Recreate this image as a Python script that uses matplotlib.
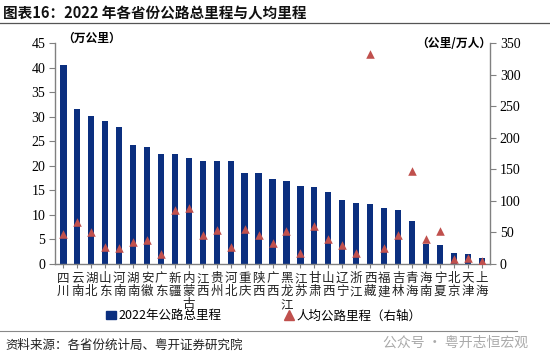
import matplotlib
matplotlib.use("Agg")
import matplotlib.pyplot as plt
from matplotlib.lines import Line2D
from matplotlib.patches import Patch

plt.rcParams['font.family'] = ['Noto Sans CJK SC', 'DejaVu Sans']

provinces = ["四川", "云南", "湖北", "山东", "河南", "湖南", "安徽", "广东", "新疆", "内蒙古",
             "江西", "贵州", "河北", "重庆", "陕西", "广西", "黑龙江", "江苏", "甘肃", "山西",
             "辽宁", "浙江", "西藏", "福建", "吉林", "青海", "海南", "宁夏", "北京", "天津", "上海"]
total_km = [40.6, 31.6, 30.2, 29.2, 27.8, 24.2, 23.8, 22.3, 22.3, 21.6,
            21.0, 20.9, 20.9, 18.6, 18.6, 17.2, 16.9, 15.8, 15.7, 14.6,
            13.1, 12.4, 12.2, 11.3, 10.9, 8.8, 4.1, 3.8, 2.2, 2.0, 1.3]
per_capita = [47.5, 66, 50.7, 26.4, 25.9, 35.4, 38, 16.4, 85, 88.7,
              45.4, 53.3, 26.4, 56, 45.4, 32.7, 52.5, 18, 60.7, 40,
              29.6, 18, 332, 25.4, 45, 147, 39.6, 51.8, 8.4, 10, 4.3]
left_ticks = list(range(0, 50, 5))
right_ticks = list(range(0, 400, 50))

bar_color = '#0B2F7F'
tri_color = '#C0504D'
serif = 'Liberation Serif'

fig = plt.figure(figsize=(5.5, 3.61), dpi=100)
ax = fig.add_axes([0.1, 0.269, 0.791, 0.612])
ax2 = ax.twinx()

x = list(range(len(provinces)))
ax.bar(x, total_km, width=0.45, color=bar_color, zorder=2)
ax2.scatter(x, per_capita, marker='^', s=38, color=tri_color, zorder=3, linewidths=0)

ax.set_xlim(-0.6, len(provinces) - 0.4)
ax.set_ylim(0, 45)
ax2.set_ylim(0, 350)
ax.set_yticks(left_ticks)
ax2.set_yticks(right_ticks)
ax.set_yticklabels([str(t) for t in left_ticks], fontsize=10, fontfamily=serif)
ax2.set_yticklabels([str(t) for t in right_ticks], fontsize=10, fontfamily=serif)

ax.set_xticks(x)
ax.set_xticklabels(["\n".join(p) for p in provinces], fontsize=9, linespacing=1.0,
                   color='#222222')
ax.tick_params(axis='x', length=3, color='#808080', pad=3)
ax.tick_params(axis='y', length=4, color='#808080', direction='out', pad=3)
ax2.tick_params(axis='y', length=4, color='#808080', direction='out', pad=3)

for a in (ax, ax2):
    a.spines['top'].set_visible(False)
    for s in ('left', 'right', 'bottom'):
        a.spines[s].set_color('#808080')
        a.spines[s].set_linewidth(1.0)
ax.spines['right'].set_visible(False)
ax2.spines['left'].set_visible(False)
ax2.spines['bottom'].set_visible(False)
ax2.set_zorder(ax.get_zorder() + 1)
ax2.patch.set_visible(False)

fig.text(0.113, 0.895, "（万公里）", fontsize=8.5, fontweight='bold', ha='left', va='center')
fig.text(0.893, 0.88, "（公里/万人）", fontsize=8.5, fontweight='bold', ha='right', va='center')

# title
fig.text(0.005, 0.962, "图表16：2022 年各省份公路总里程与人均里程", fontsize=10.5,
         fontweight='bold', ha='left', va='center', color='#111111')
fig.add_artist(Line2D([0.0, 1.0], [0.937, 0.937], color='#555555', lw=0.9))

# legend
handles = [Patch(color=bar_color, label='2022年公路总里程'),
           Line2D([], [], marker='^', ls='', color=tri_color, markersize=7, label='人均公路里程（右轴）')]
fig.legend(handles=handles, loc='center', bbox_to_anchor=(0.48, 0.125), ncol=2, frameon=False,
           fontsize=9, handlelength=0.8, handletextpad=0.2, columnspacing=5.0)

fig.add_artist(Line2D([0.0, 0.94], [0.083, 0.083], color='#888888', lw=0.8))
fig.text(0.01, 0.043, "资料来源：各省份统计局、粤开证券研究院", fontsize=9, style='italic',
         ha='left', va='center', color='#222222')
fig.text(0.96, 0.05, "公众号 · 粤开志恒宏观", fontsize=10, ha='right', va='center', color='#AAAAAA')

fig.savefig("out.png", dpi=100)
